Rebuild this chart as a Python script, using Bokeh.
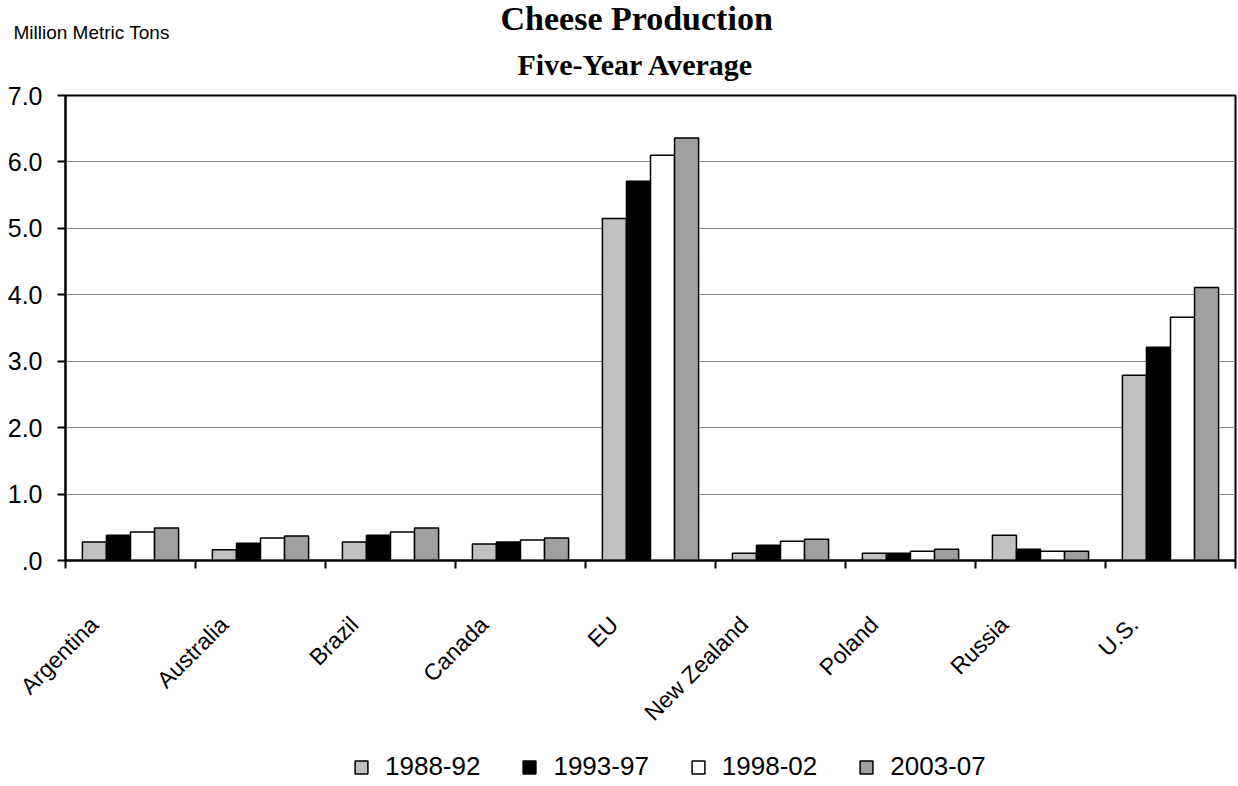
import math
from bokeh.plotting import figure
from bokeh.layouts import column
from bokeh.models import (Range1d, FixedTicker, Title, Legend, LegendItem,
                          ColumnDataSource, NumeralTickFormatter)
from bokeh.embed import file_html
from bokeh.resources import INLINE

# ---------------- data ----------------
countries = ["Argentina", "Australia", "Brazil", "Canada", "EU",
             "New Zealand", "Poland", "Russia", "U.S."]
periods = ["1988-92", "1993-97", "1998-02", "2003-07"]
v_1988_92 = [0.28, 0.16, 0.28, 0.25, 5.15, 0.11, 0.11, 0.38, 2.79]
v_1993_97 = [0.38, 0.26, 0.38, 0.28, 5.71, 0.23, 0.11, 0.17, 3.21]
v_1998_02 = [0.43, 0.34, 0.43, 0.31, 6.10, 0.29, 0.14, 0.14, 3.66]
v_2003_07 = [0.49, 0.37, 0.49, 0.34, 6.36, 0.32, 0.17, 0.14, 4.11]
y_ticks = [0, 1, 2, 3, 4, 5, 6, 7]

series = [v_1988_92, v_1993_97, v_1998_02, v_2003_07]
colors = ["#C0C0C0", "#000000", "#FFFFFF", "#A0A0A0"]

SANS = "Liberation Sans"
SERIF = "Liberation Serif"

p = figure(width=1238, height=740, x_range=Range1d(0, 9), y_range=Range1d(0, 7),
           output_backend="svg", toolbar_location=None, title=None,
           min_border_left=65, min_border_right=3, min_border_top=95,
           min_border_bottom=180)
p.background_fill_color = "white"
p.border_fill_color = "white"
p.outline_line_color = "black"
p.outline_line_width = 2

bw = 0.185
sources = []
for k, (vals, col) in enumerate(zip(series, colors)):
    src = ColumnDataSource(dict(x=[i + 0.5 + (k - 1.5) * bw for i in range(len(countries))],
                                top=vals))
    sources.append(src)
    p.vbar(x="x", top="top", width=bw, bottom=0, source=src,
           fill_color=col, line_color="black", line_width=1.5)

# x axis: labels near category centres, ticks at boundaries
lab_shift = -0.28
label_pos = [i + 0.5 + lab_shift for i in range(len(countries))]
p.xaxis.ticker = FixedTicker(ticks=label_pos, minor_ticks=list(range(len(countries) + 1)))
p.xaxis.major_label_overrides = {t: c for t, c in zip(label_pos, countries)}
p.xaxis.major_tick_line_color = None
p.xaxis.minor_tick_line_color = "black"
p.xaxis.minor_tick_line_width = 2
p.xaxis.minor_tick_out = 8
p.xaxis.minor_tick_in = 0
p.xaxis.axis_line_width = 2
p.xaxis.axis_line_color = "black"
p.xaxis.major_label_orientation = math.pi / 4
p.xaxis.major_label_text_font = SANS
p.xaxis.major_label_text_font_size = "23px"
p.xaxis.major_label_text_color = "black"
p.xaxis.major_label_standoff = 52

# y axis
p.yaxis.ticker = FixedTicker(ticks=y_ticks, minor_ticks=[])
p.yaxis.formatter = NumeralTickFormatter(format="0.0")
p.yaxis.major_label_overrides = {0: ".0"}
p.yaxis.major_tick_out = 8
p.yaxis.major_tick_in = 0
p.yaxis.major_tick_line_width = 2
p.yaxis.major_tick_line_color = "black"
p.yaxis.axis_line_width = 2
p.yaxis.axis_line_color = "black"
p.yaxis.major_label_text_font = SANS
p.yaxis.major_label_text_font_size = "25px"
p.yaxis.major_label_text_color = "black"
p.yaxis.major_label_standoff = 15

p.xgrid.visible = False
p.ygrid.grid_line_color = "#888888"
p.ygrid.grid_line_width = 1

# titles (first added is nearest the plot)
p.add_layout(Title(text="Five-Year Average", align="left", offset=452, text_font=SERIF,
                   text_font_style="bold", text_font_size="30px", text_color="black",
                   standoff=29), "above")
p.add_layout(Title(text="Million Metric Tons", align="left", offset=-52, text_font=SANS,
                   text_font_style="normal", text_font_size="19px", text_color="black",
                   standoff=-23), "above")
p.add_layout(Title(text="Cheese Production", align="left", offset=435, text_font=SERIF,
                   text_font_style="bold", text_font_size="34px", text_color="black",
                   standoff=-10), "above")

# legend strip below the chart (hidden renderers sharing the same data)
p2 = figure(width=1238, height=46, x_range=Range1d(0, 9), y_range=Range1d(0, 7),
            output_backend="svg", toolbar_location=None, title=None,
            x_axis_location=None, y_axis_location=None,
            min_border_left=0, min_border_right=0, min_border_top=0, min_border_bottom=0)
p2.outline_line_color = None
p2.xgrid.visible = False
p2.ygrid.grid_line_color = None
p2.background_fill_color = "white"
p2.border_fill_color = "white"
items = []
for per, col, src in zip(periods, colors, sources):
    r = p2.vbar(x="x", top="top", width=bw, bottom=0, source=src,
                fill_color=col, line_color="black", line_width=1.5)
    r.visible = False
    items.append(LegendItem(label=per, renderers=[r]))
legend = Legend(items=items, location=(288, 4), orientation="horizontal",
                border_line_color=None, background_fill_alpha=0,
                padding=0, margin=0, spacing=41, glyph_width=16, glyph_height=16,
                label_standoff=16, label_text_font=SANS, label_text_font_size="26px",
                label_text_color="black")
p2.add_layout(legend)

layout = column(p, p2, spacing=0)
open("out.html", "w").write(file_html(layout, INLINE))
